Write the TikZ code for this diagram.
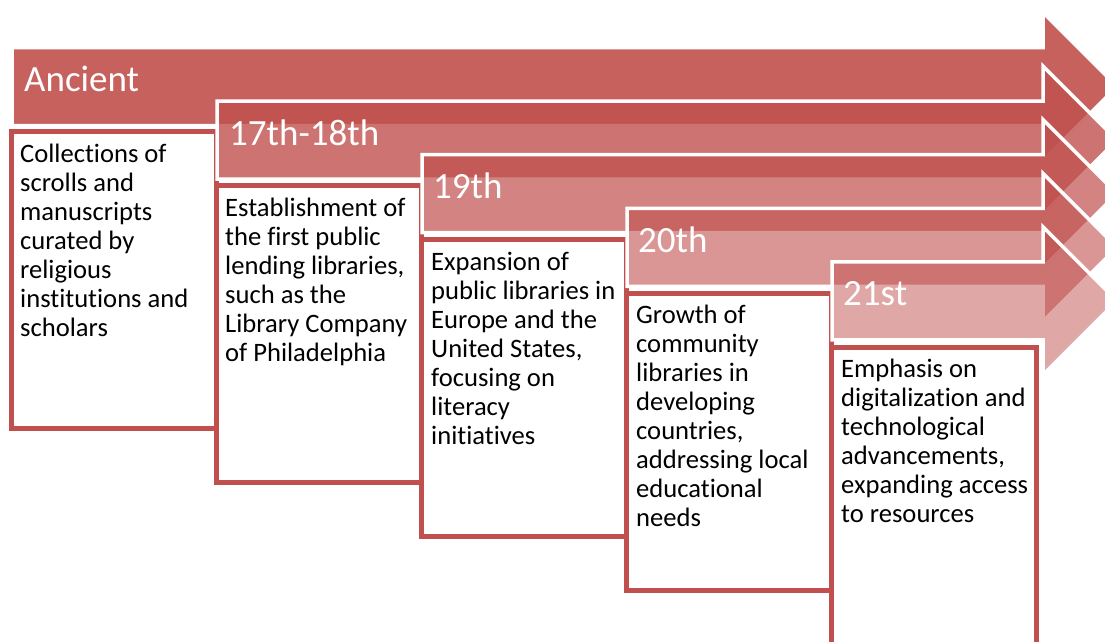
\documentclass[tikz,border=0pt]{standalone}
\usepackage{fontspec}
\setmainfont{Carlito}[Ligatures=NoCommon]
\definecolor{acc}{HTML}{C0504D}
\begin{document}
\begin{tikzpicture}[x=1pt,y=-1pt,
  arrowshape/.style={draw=white, line width=3.5pt, fill=acc, miter limit=10, line join=miter},
  entrybox/.style={draw=acc, line width=5pt, fill=white},
  lbl/.style={text=white, font=\fontsize{37}{41}\selectfont, inner sep=0pt, anchor=base west},
  body/.style={text=black, font=\fontsize{26.6}{29}\selectfont, inner sep=0pt, anchor=north west, align=left}]
\useasboundingbox (0,0) rectangle (1105,641);
\clip (0,0) rectangle (1105,641);
\foreach \i/\op in {0/0.9,1/0.8,2/0.7,3/0.6,4/0.5} {
  \pgfmathsetmacro\L{12+205*\i}
  \pgfmathsetmacro\T{47.5+53.6*\i}
  \pgfmathsetmacro\Tb{\T+78}
  \pgfmathsetmacro\Ht{\T-35}
  \pgfmathsetmacro\Hb{\T+113}
  \pgfmathsetmacro\Tm{\T+39}
  \pgfmathsetmacro\BL{11.5+205*\i}
  \pgfmathsetmacro\BR{216.5+205*\i}
  \pgfmathsetmacro\BT{131+54.2*\i}
  \pgfmathsetmacro\BB{\BT+297}
  \path[arrowshape, fill opacity=\op] (\L,\T) -- (1043,\T) -- (1043,\Ht) -- (1117,\Tm) -- (1043,\Hb) -- (1043,\Tb) -- (\L,\Tb) -- cycle;
  \path[entrybox] (\BL,\BT) rectangle (\BR,\BB);
}
\node[lbl] (l1) at (24,91.5) {Ancient};
\node[lbl] (l2) at (229,145) {17th-18th};
\node[lbl] (l3) at (433,198.5) {19th};
\node[lbl] (l4) at (638,252) {20th};
\node[lbl] (l5) at (843,305.5) {21st};
\node[body] (t1) at (20,144) {Collections of\\scrolls and\\manuscripts\\curated by\\religious\\institutions and\\scholars};
\node[body] (t2) at (225,197.75) {Establishment of\\the first public\\lending libraries,\\such as the\\Library Company\\of Philadelphia};
\node[body] (t3) at (431,251.5) {Expansion of\\public libraries in\\Europe and the\\United States,\\focusing on\\literacy\\initiatives};
\node[body] (t4) at (636,305.25) {Growth of\\community\\libraries in\\developing\\countries,\\addressing local\\educational\\needs};
\node[body] (t5) at (841,359) {Emphasis on\\digitalization and\\technological\\advancements,\\expanding access\\to resources};
\end{tikzpicture}
\end{document}
